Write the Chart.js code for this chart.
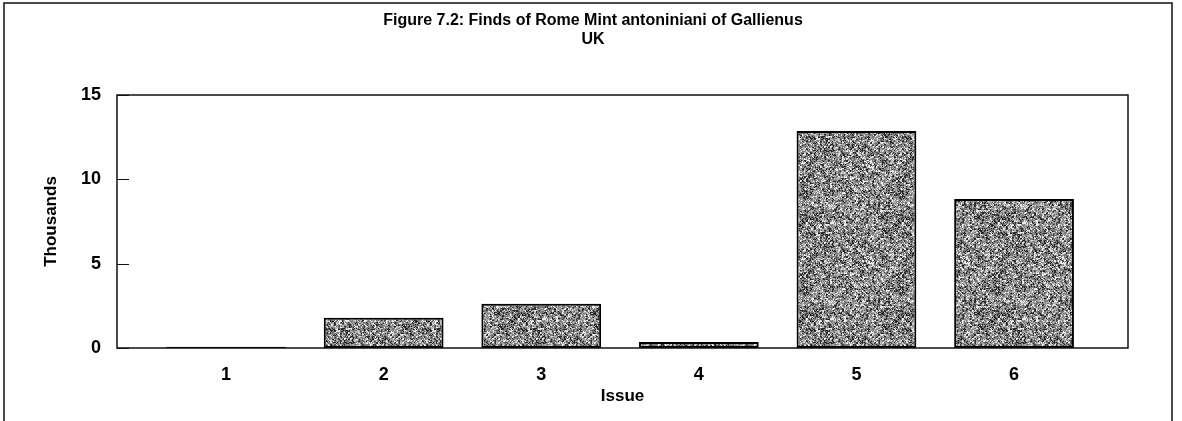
<!DOCTYPE html>
<html>
<head>
<meta charset="utf-8">
<script src="https://cdn.jsdelivr.net/npm/chart.js@4.4.0/dist/chart.umd.min.js"></script>
<style>
  html, body { margin: 0; padding: 0; background: #fff; }
  #wrap { width: 1182px; height: 421px; }
</style>
</head>
<body>
<div id="wrap"><canvas id="findsChart" width="1182" height="421"></canvas></div>
<script>
// Finds of Rome Mint antoniniani of Gallienus, UK (thousands)
const issues = [1, 2, 3, 4, 5, 6];
const finds = [0.07, 1.8, 2.62, 0.36, 12.87, 8.83];
const yTicks = [0, 5, 10, 15];

// speckled grey fill like the scanned bars (fixed hash, not data)
function hash(x, y) {
    let h = (x * 374761393 + y * 668265263) | 0;
    h = Math.imul(h ^ (h >>> 13), 1274126177);
    return ((h ^ (h >>> 16)) >>> 0) % 100;
}
function makeSpeckle() {
    const c = document.createElement('canvas');
    c.width = 96; c.height = 96;
    const g = c.getContext('2d');
    const img = g.createImageData(96, 96);
    for (let y = 0; y < 96; y++) {
        for (let x = 0; x < 96; x++) {
            const r = (hash(x, y) + hash(x >> 1, (y >> 1) + 500)) / 2;
            const v = r < 30 ? 45 : (r < 55 ? 120 : (r < 75 ? 175 : 235));
            const i = (y * 96 + x) * 4;
            img.data[i] = v; img.data[i + 1] = v; img.data[i + 2] = v; img.data[i + 3] = 255;
        }
    }
    g.putImageData(img, 0, 0);
    return g.createPattern(c, 'repeat');
}

const frames = {
    id: 'frames',
    afterDraw(chart) {
        const { ctx, chartArea: a } = chart;
        const y = chart.scales.y;
        ctx.save();
        ctx.strokeStyle = '#111';
        // outer figure box
        ctx.lineWidth = 1.5;
        ctx.beginPath();
        ctx.moveTo(4, 430); ctx.lineTo(4, 3); ctx.lineTo(1172, 3); ctx.lineTo(1172, 430);
        ctx.stroke();
        // plot box
        ctx.strokeRect(a.left, a.top, a.right - a.left, a.bottom - a.top);
        // inward tick marks
        ctx.lineWidth = 1;
        yTicks.forEach(v => {
            const py = Math.round(y.getPixelForValue(v)) + 0.5;
            ctx.beginPath();
            ctx.moveTo(a.left, py); ctx.lineTo(a.left + 12, py);
            ctx.stroke();
        });
        ctx.restore();
    }
};

const font = 'Liberation Sans, Arial, sans-serif';
const ctx = document.getElementById('findsChart');

new Chart(ctx, {
    type: 'bar',
    data: {
        datasets: [{
            data: issues.map((v, i) => ({ x: v, y: finds[i] })),
            backgroundColor: makeSpeckle(),
            borderColor: '#000',
            borderWidth: 2,
            borderSkipped: false,
            barPercentage: 0.76,
            categoryPercentage: 1
        }]
    },
    options: {
        responsive: false,
        animation: false,
        layout: { padding: { left: 4, right: 0, top: 0, bottom: 0 } },
        plugins: {
            legend: { display: false },
            tooltip: { enabled: false },
            title: {
                display: true,
                text: 'Figure 7.2: Finds of Rome Mint antoniniani of Gallienus',
                color: '#000',
                font: { family: font, size: 16, weight: 'bold', lineHeight: 1.05 },
                padding: { top: 12, bottom: 0 }
            },
            subtitle: {
                display: true,
                text: 'UK',
                color: '#000',
                font: { family: font, size: 16, weight: 'bold', lineHeight: 1.05 },
                padding: { top: 2, bottom: 47.4 }
            }
        },
        scales: {
            x: {
                type: 'linear',
                min: 0.308,
                max: 6.723,
                offset: false,
                grid: { display: false, drawTicks: false },
                border: { display: false },
                afterBuildTicks: axis => { axis.ticks = issues.map(v => ({ value: v })); },
                afterFit: axis => { axis.height = 73; },
                ticks: {
                    color: '#000',
                    padding: 16,
                    maxRotation: 0,
                    font: { family: font, size: 18, weight: 'bold' }
                },
                title: {
                    display: true,
                    text: 'Issue',
                    color: '#000',
                    font: { family: font, size: 17, weight: 'bold' },
                    padding: { top: 0, bottom: 14 }
                }
            },
            y: {
                min: 0,
                max: 15,
                grid: { display: false, drawTicks: false },
                border: { display: false },
                afterBuildTicks: axis => { axis.ticks = yTicks.map(v => ({ value: v })); },
                afterFit: axis => { axis.width = 113; },
                ticks: {
                    color: '#000',
                    padding: 16,
                    font: { family: font, size: 18, weight: 'bold' }
                },
                title: {
                    display: true,
                    text: 'Thousands',
                    color: '#000',
                    font: { family: font, size: 17, weight: 'bold' },
                    padding: { top: 37, bottom: 0 }
                }
            },
            // empty right-hand strip so the plot ends where the original does
            spacer: {
                type: 'linear',
                position: 'right',
                display: true,
                grid: { display: false, drawTicks: false },
                border: { display: false },
                ticks: { display: false },
                afterFit: axis => { axis.width = 54; }
            }
        }
    },
    plugins: [frames]
});
</script>
</body>
</html>
